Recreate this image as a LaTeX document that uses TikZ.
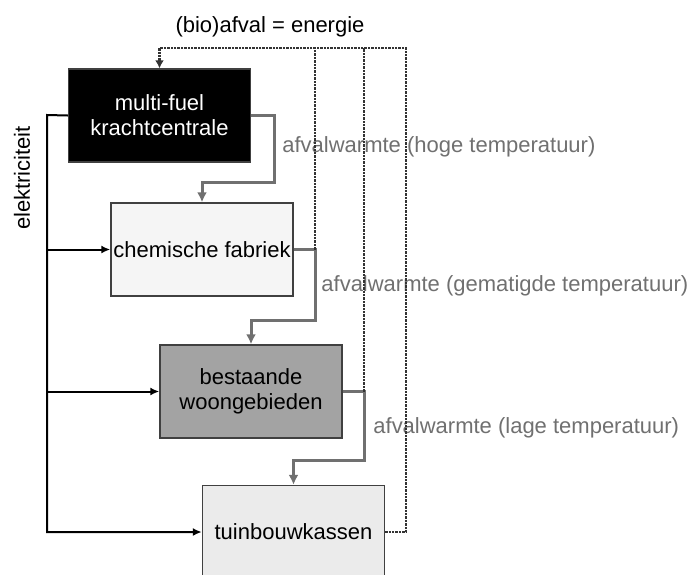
\documentclass[tikz,border=0pt]{standalone}
\usepackage{fontspec}
\setmainfont{Liberation Sans}
\usetikzlibrary{arrows.meta}
\definecolor{heatgray}{HTML}{707070}
\definecolor{wastegray}{HTML}{333333}
\definecolor{rimgray}{HTML}{404040}

\tikzset{
  txt/.style={font=\fontsize{11}{12.5}\selectfont},
  unit/.style={txt, draw=rimgray, line width=0.7pt, minimum width=91pt,
    minimum height=46.5pt, inner sep=0pt, align=center},
  power/.style={line width=1pt, -{Latex[length=4.5pt,width=4pt]}},
  heat/.style={heatgray, line width=1.5pt, -{Latex[length=5pt,width=5pt]}},
  waste/.style={wastegray, line width=1.4pt, dash pattern=on 1.2pt off 0.5pt},
  flowlabel/.style={txt, text=heatgray, anchor=west, inner sep=0pt}
}

\begin{document}
\begin{tikzpicture}[x=0.5pt,y=-0.5pt]
\useasboundingbox (0,0) rectangle (692,574);
% units
\begin{scope}
\clip (0,0) rectangle (692,574);
\node[unit, fill=black, text=white] (plant) at (159.5,115.5) {multi-fuel\\krachtcentrale};
\node[unit, fill=black!4] (chem) at (202,249.5) {chemische fabriek};
\node[unit, fill=black!36] (homes) at (251,391.5) {bestaande\\woongebieden};
\node[unit, fill=black!8] (green) at (293.5,532) {tuinbouwkassen};
\end{scope}

% elektriciteit
\coordinate (bus) at (47,115);
\draw[power] (plant.west) -- (bus) |- (green.west);
\draw[power] (bus |- chem.west) -- (chem.west);
\draw[power] (bus |- homes.west) -- (homes.west);
\node[txt, rotate=90] (elec) at (22,178) {elektriciteit};

% afvalwarmte
\draw[heat] (plant.east) -| (274,182) -| (chem.north);
\draw[heat] (chem.east) -| (315,320) -| (homes.north);
\draw[heat] (homes.east) -| (364,460) -| (green.north);
\node[flowlabel] (high) at (282,147) {afvalwarmte (hoge temperatuur)};
\node[flowlabel] (mid) at (321,286) {afvalwarmte (gematigde temperatuur)};
\node[flowlabel] (low) at (373,428) {afvalwarmte (lage temperatuur)};

% (bio)afval terug
\coordinate (t1) at (406,48);
\coordinate (t2) at (315,48);
\coordinate (t3) at (364,48);
\draw[waste, -{Latex[length=4pt,width=4.5pt]}] (green.east) -| (t1) -| (plant.north);
\draw[waste] (chem.east -| t2) -- (t2);
\draw[waste] (homes.east -| t3) -- (t3);
\node[txt] (bio) at (270,27) {(bio)afval = energie};
\end{tikzpicture}
\end{document}
